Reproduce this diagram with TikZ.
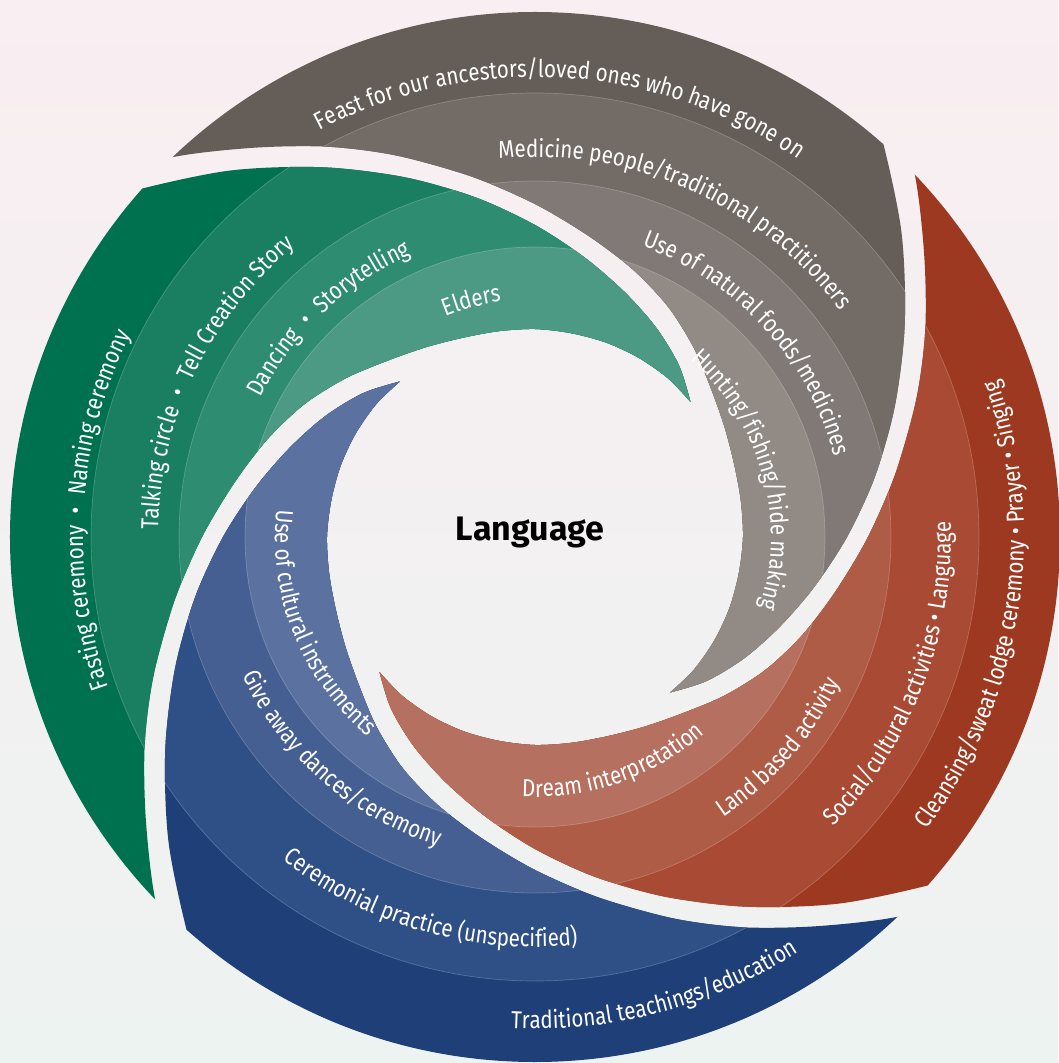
\documentclass[tikz,border=0pt]{standalone}
\usepackage{fontspec}
\setmainfont{Fira Sans}
\newfontfamily\armfont{Fira Sans}[FakeStretch=0.84]
\usetikzlibrary{decorations.text}
\definecolor{bgtop}{HTML}{F9EEF1}
\definecolor{bgbot}{HTML}{EDF3F1}
\definecolor{gA}{HTML}{655E58}\definecolor{gB}{HTML}{736B66}\definecolor{gC}{HTML}{817975}\definecolor{gD}{HTML}{918A85}
\definecolor{eA}{HTML}{00714F}\definecolor{eB}{HTML}{1A7F60}\definecolor{eC}{HTML}{2E8C70}\definecolor{eD}{HTML}{4C9A84}
\definecolor{rA}{HTML}{9E3921}\definecolor{rB}{HTML}{A84A34}\definecolor{rC}{HTML}{AF5C47}\definecolor{rD}{HTML}{B5705F}
\definecolor{bA}{HTML}{1F3F78}\definecolor{bB}{HTML}{2F5087}\definecolor{bC}{HTML}{465F92}\definecolor{bD}{HTML}{5B72A0}
% clockwise label: phi_c (deg, clockwise from top), text-centre radius, text
\newcommand\cwlabel[3]{\path[decorate,decoration={text along path,text align=center,text color=white,
   text={|\armfont\fontsize{24.5}{28}\selectfont|#3}}]
   ({90-(#1)+50}:{#2-8}) arc[start angle={90-(#1)+50}, end angle={90-(#1)-50}, radius={#2-8}];}
% counter-clockwise label
\newcommand\ccwlabel[3]{\path[decorate,decoration={text along path,text align=center,text color=white,
   text={|\armfont\fontsize{24.5}{28}\selectfont|#3}}]
   ({90-(#1)-50}:{#2+8}) arc[start angle={90-(#1)-50}, end angle={90-(#1)+50}, radius={#2+8}];}
\begin{document}
\begin{tikzpicture}[x=1pt,y=1pt]
\useasboundingbox (-535,-526) rectangle (523,537);
\shade[top color=bgtop, bottom color=bgbot] (-535,-526) rectangle (523,537);
\foreach \rot/\ca/\cb/\cc/\cd in {0/gA/gB/gC/gD, -90/rA/rB/rC/rD, -180/bA/bB/bC/bD, 90/eA/eB/eC/eD}{
  \begin{scope}[rotate=\rot]
    \clip plot[smooth] coordinates {(142:573) (134:527) (126:481) (118:442) (110:406) (100:366) (90:333) (80:306) (70:285) (60:266) (50:247) (40:230) (30:219) (20:212) (10:209) (0:208) (-10:207) (-20:207) (-30:207) (-40:207) (-49:206)}
      -- plot[smooth] coordinates {(-49:206) (-40:224) (-30:242) (-20:261) (-10:284) (0:312) (10:345) (20:383) (30:427) (40:478) (50:535) (56:570)}
      -- (56:640) arc[start angle=56, end angle=142, radius=640] -- cycle;
    \fill[fill=\ca] (0,0) circle (525);
    \fill[fill=\cb] (0,0) circle (444);
    \fill[fill=\cc] (0,0) circle (356);
    \fill[fill=\cd] (0,0) circle (290);
    \draw[white, opacity=0.22, line width=0.7] (0,0) circle (444) (0,0) circle (356) (0,0) circle (290);
  \end{scope}
}
% grey arm
\cwlabel{3.5}{468}{Feast for our ancestors/loved ones who have gone on}
\cwlabel{24}{388}{Medicine people/traditional practitioners}
\cwlabel{47.6}{318}{Use of natural foods/medicines}
\cwlabel{74.3}{244}{Hunting/fishing/hide making}
% green arm
\cwlabel{273.6}{460}{Fasting ceremony {\hskip6pt}• {\hskip6pt}Naming ceremony}
\cwlabel{295.8}{385}{Talking circle {\hskip6pt}• {\hskip6pt}Tell Creation Story}
\cwlabel{316.6}{316}{Dancing {\hskip6pt}• {\hskip6pt}Storytelling}
\cwlabel{344.9}{246}{Elders}
% red arm
\ccwlabel{99}{481}{Cleansing/sweat lodge ceremony • Prayer • Singing}
\ccwlabel{111}{408}{Social/cultural activities • Language}
\ccwlabel{130.8}{330}{Land based activity}
\ccwlabel{161}{252}{Dream interpretation}
% blue arm
\ccwlabel{165.2}{484}{Traditional teachings/education}
\ccwlabel{196}{402}{Ceremonial practice (unspecified)}
\ccwlabel{221}{316}{Give away dances/ceremony}
\ccwlabel{248}{252}{Use of cultural instruments}
\node[font=\bfseries\fontsize{34}{34}\selectfont, text=black] (lang) at (-5,5) {Language};
\end{tikzpicture}
\end{document}
